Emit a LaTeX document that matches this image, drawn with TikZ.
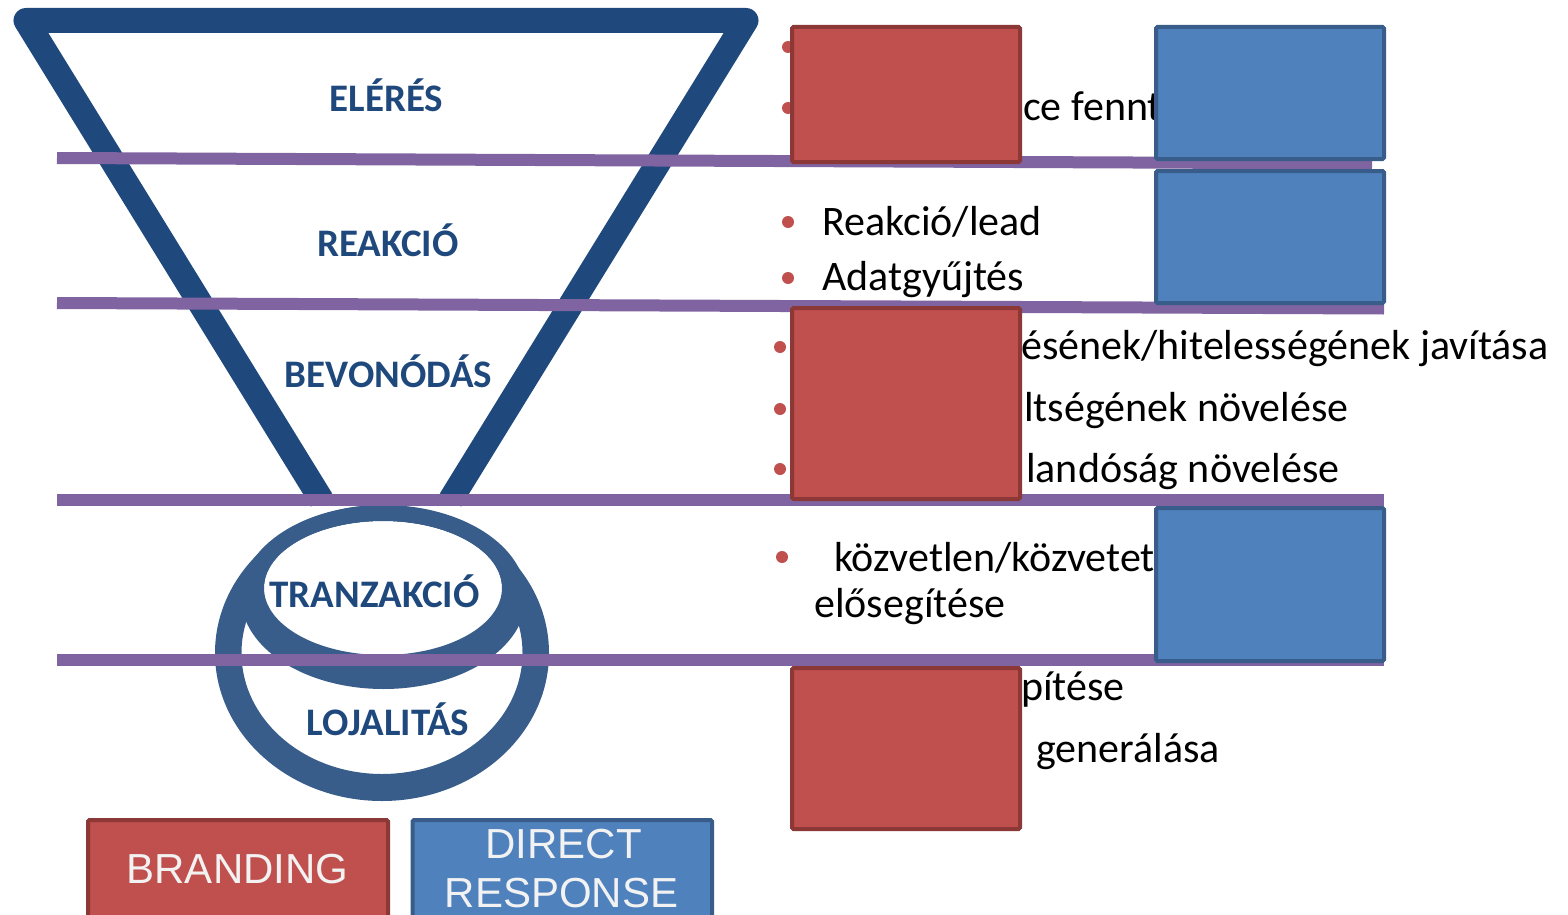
\documentclass[tikz,border=0pt]{standalone}
\usepackage{fontspec}
\setmainfont{Carlito}
\newfontfamily\arialf{Liberation Sans}
\definecolor{funnel}{HTML}{1F497D}
\definecolor{ring}{HTML}{385D8A}
\definecolor{purp}{HTML}{8064A2}
\definecolor{redf}{HTML}{C0504D}
\definecolor{redd}{HTML}{8C3836}
\definecolor{bluef}{HTML}{4F81BD}
\definecolor{blued}{HTML}{385D8A}
\begin{document}
\begin{tikzpicture}[x=1pt,y=-1pt,
  stage/.style={font=\fontsize{39}{44}\selectfont\bfseries, text=funnel, inner sep=0, anchor=base},
  item/.style={font=\fontsize{42}{50}\selectfont, anchor=base west, inner sep=0},
  bul/.style={circle, fill=redf, minimum size=12, inner sep=0},
  sep/.style={draw=purp, line width=12},
  redbox/.style={draw=redd, fill=redf, line width=4, rounded corners=1.5},
  bluebox/.style={draw=blued, fill=bluef, line width=4, rounded corners=1.5},
  legtext/.style={font=\arialf\fontsize{42}{48}\selectfont, text=white!95!black, inner sep=0, anchor=base},
]
\useasboundingbox (0,0) rectangle (1568,915);
\clip (0,0) rectangle (1568,915);

% right-hand texts (partly hidden by boxes)
\node[bul] (b1) at (788,47) {};
\node[bul] (b2) at (788,108) {};
\node[item] (t2) at (1023,121) {ce fennt};
\node[bul] (b3) at (788,222) {};
\node[item] (t3) at (822,235) {Reakció/lead};
\node[bul] (b4) at (788,278) {};
\node[item] (t4) at (822,290) {Adatgyűjtés};
\node[bul] (b5) at (780,347) {};
\node[item] (t5) at (1021,359) {ésének/hitelességének javítása};
\node[bul] (b6) at (780,409) {};
\node[item] (t6) at (1024,421) {ltségének növelése};
\node[bul] (b7) at (780,469) {};
\node[item] (t7) at (1026,482) {landóság növelése};
\node[bul] (b8) at (782,557) {};
\node[item] (t8) at (834,571) {közvetlen/közvetet};
\node[item] (t9) at (814,617) {elősegítése};
\node[item] (t10) at (1021,700) {pítése};
\node[item] (t11) at (1036,762) {generálása};

% funnel
\draw[funnel, line width=25, line join=round] (321.5,500) -- (26,20.5) -- (746,20.5) -- (450.5,500);

% rings
\fill[ring, even odd rule] (382,653) ellipse [x radius=167, y radius=148]
                            (382,653) ellipse [x radius=140.5, y radius=121];
\fill[white] (383,588) ellipse [x radius=119, y radius=67];
\fill[ring, even odd rule] (383.5,597) ellipse [x radius=142.5, y radius=92]
                            (383,588) ellipse [x radius=119, y radius=67];

% separators
\draw[sep] (57,158) -- (1372,163.5);
\draw[sep] (57,303) -- (1384,308.5);
\draw[sep] (57,500) -- (1384,500);
\draw[sep] (57,660) -- (1384,660);

% stage labels
\node[stage] (l1) at (386.5,112) {ELÉRÉS};
\node[stage] (l2) at (388,256) {REAKCIÓ};
\node[stage] (l3) at (388.5,387) {BEVONÓDÁS};
\node[stage] (l4) at (374.5,607) {TRANZAKCIÓ};
\node[stage] (l5) at (388,735) {LOJALITÁS};

% boxes
\draw[redbox] (792,27) rectangle (1020,162);
\draw[bluebox] (1156,27) rectangle (1384,159);
\draw[bluebox] (1156,171) rectangle (1384,303);
\draw[redbox] (792,308) rectangle (1020,499);
\draw[bluebox] (1156,508) rectangle (1384,661);
\draw[redbox] (792,668) rectangle (1020,829);

% legend
\draw[redbox] (88,820) rectangle (388,940);
\draw[bluebox] (412.5,820) rectangle (712,940);
\node[legtext] (brand) at (237.5,883) {BRANDING};
\node[legtext] (dr1) at (563.5,858) {DIRECT};
\node[legtext] (dr2) at (561.5,907) {RESPONSE};
\end{tikzpicture}
\end{document}
